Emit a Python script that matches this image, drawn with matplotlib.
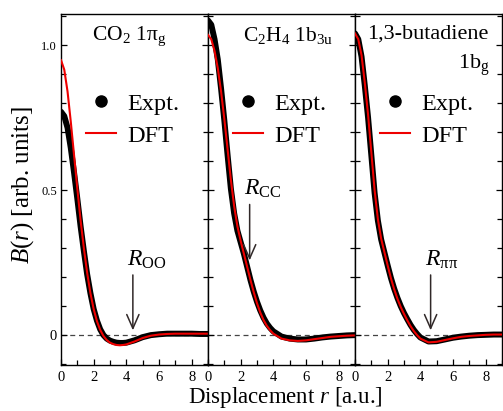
import matplotlib
matplotlib.use("Agg")
import matplotlib.pyplot as plt
from matplotlib.lines import Line2D
from matplotlib.ticker import MultipleLocator, FixedLocator

plt.rcParams['font.family'] = 'serif'
plt.rcParams['font.serif'] = ['Liberation Serif', 'DejaVu Serif']
plt.rcParams['mathtext.fontset'] = 'custom'
plt.rcParams['mathtext.rm'] = 'Liberation Serif'
plt.rcParams['mathtext.it'] = 'Liberation Serif:italic'

# ---------------- data ----------------
r = [0, 0.2, 0.4, 0.6, 0.8, 1.0, 1.2, 1.4, 1.6, 1.8, 2.0, 2.2, 2.4, 2.6, 2.8,
     3.0, 3.2, 3.4, 3.6, 3.8, 4.0, 4.5, 5.0, 5.5, 6.0, 6.5, 7.0, 7.5, 8.0, 8.5, 9.0]

co2_expt = [0.77, 0.755, 0.715, 0.645, 0.56, 0.47, 0.375, 0.29, 0.21, 0.145, 0.09,
            0.05, 0.02, 0.0, -0.012, -0.019, -0.023, -0.026, -0.027, -0.027, -0.026,
            -0.018, -0.007, 0.0, 0.003, 0.005, 0.005, 0.005, 0.005, 0.004, 0.004]
co2_dft = [0.948, 0.915, 0.84, 0.735, 0.62, 0.505, 0.395, 0.3, 0.215, 0.145, 0.09,
           0.048, 0.018, -0.003, -0.017, -0.026, -0.031, -0.034, -0.035, -0.034, -0.032,
           -0.022, -0.01, -0.002, 0.002, 0.004, 0.005, 0.005, 0.005, 0.005, 0.005]

c2h4_expt = [1.085, 1.07, 1.02, 0.95, 0.85, 0.74, 0.62, 0.505, 0.42, 0.36, 0.32,
             0.28, 0.235, 0.19, 0.15, 0.115, 0.085, 0.06, 0.04, 0.025, 0.013,
             -0.005, -0.012, -0.015, -0.015, -0.012, -0.008, -0.005, -0.003, -0.001, 0.0]
c2h4_dft = [1.035, 1.02, 0.98, 0.92, 0.84, 0.745, 0.64, 0.535, 0.445, 0.375, 0.325,
            0.28, 0.235, 0.19, 0.148, 0.11, 0.078, 0.052, 0.032, 0.017, 0.005,
            -0.012, -0.018, -0.02, -0.018, -0.014, -0.01, -0.006, -0.004, -0.002, -0.001]

buta_expt = [1.04, 1.02, 0.96, 0.86, 0.75, 0.62, 0.49, 0.395, 0.33, 0.285, 0.24,
             0.197, 0.16, 0.128, 0.1, 0.076, 0.055, 0.035, 0.018, 0.004, -0.008,
             -0.022, -0.021, -0.015, -0.009, -0.005, -0.002, 0.0, 0.001, 0.002, 0.002]
buta_dft = [1.04, 1.02, 0.965, 0.87, 0.76, 0.63, 0.5, 0.4, 0.333, 0.286, 0.24,
            0.196, 0.158, 0.125, 0.097, 0.073, 0.051, 0.031, 0.014, 0.0, -0.012,
            -0.025, -0.023, -0.017, -0.011, -0.006, -0.003, -0.001, 0.001, 0.002, 0.002]

panel_titles = ["CO$_2$ 1π$_\\mathrm{g}$", "C$_2$H$_4$ 1b$_\\mathrm{3u}$", "1,3-butadiene"]
arrow_labels = ["$R$$_\\mathrm{OO}$", "$R$$_\\mathrm{CC}$", "$R$$_\\mathrm{ππ}$"]
arrow_r = [4.4, 2.55, 4.63]
arrow_tip = [0.007, 0.248, 0.007]
arrow_tail = [0.217, 0.46, 0.217]

xticks = [0, 2, 4, 6, 8]
yticks = [0, 0.5, 1.0]
yticklabels = ["0", "0.5", "1.0"]

expts = [co2_expt, c2h4_expt, buta_expt]
dfts = [co2_dft, c2h4_dft, buta_dft]

# ---------------- figure ----------------
fig = plt.figure(figsize=(5.03, 4.11), dpi=100)
L, R_, T, B = 61/503, 502/503, 1-14/411, 1-365/411
w = (R_-L)/3
axes = [fig.add_axes([L + i*w, B, w, T-B]) for i in range(3)]

for i, ax in enumerate(axes):
    ax.axhline(0, color='#444444', lw=0.9, ls=(0, (4, 3)), zorder=1)
    ax.plot(r, expts[i], color='black', lw=4.3, solid_capstyle='round',
            solid_joinstyle='round', zorder=2)
    ax.plot(r, dfts[i], color='#ee0000', lw=1.5, zorder=3)
    ax.set_xlim(0, 9)
    ax.set_ylim(-0.103, 1.107)
    ax.xaxis.set_major_locator(FixedLocator(xticks))
    ax.xaxis.set_minor_locator(MultipleLocator(1))
    ax.yaxis.set_major_locator(FixedLocator(yticks))
    ax.yaxis.set_minor_locator(MultipleLocator(0.1))
    ax.tick_params(which='both', direction='in', left=True, right=True,
                   top=False, bottom=True, width=0.9, labelsize=10.5)
    ax.tick_params(which='major', length=4.5)
    ax.tick_params(which='minor', length=3.6)
    ax.tick_params(axis='x', pad=4.5)
    ax.tick_params(axis='y', pad=3)
    for s in ax.spines.values():
        s.set_linewidth(1.0)
    if i == 0:
        ax.set_yticklabels(yticklabels)
        for lab, fs in zip(ax.get_yticklabels(), [10.5, 9, 9]):
            lab.set_fontsize(fs)
    else:
        ax.tick_params(labelleft=False)

    # arrow annotation
    ax.annotate("", xy=(arrow_r[i], arrow_tip[i]), xytext=(arrow_r[i], arrow_tail[i]),
                arrowprops=dict(arrowstyle='->,head_length=0.5,head_width=0.22',
                                mutation_scale=20, color='#302828', lw=1.1),
                zorder=4)
    ax.text(arrow_r[i] - 0.35, arrow_tail[i] + 0.005, arrow_labels[i], fontsize=17,
            ha='left', va='bottom', color='black')

    # legend
    handles = [Line2D([], [], color='black', marker='o', ls='none', markersize=8),
               Line2D([], [], color='#ee0000', lw=1.5)]
    ax.legend(handles, ["Expt.", "DFT"], loc='upper left',
              bbox_to_anchor=(0.17, 0.776), frameon=False, fontsize=17.5,
              handlelength=1.25, handletextpad=0.45, labelspacing=0.42,
              borderpad=0, borderaxespad=0)

axes[0].text(0.21, 0.969, panel_titles[0], transform=axes[0].transAxes,
             fontsize=15.5, ha='left', va='top')
axes[1].text(0.236, 0.969, panel_titles[1], transform=axes[1].transAxes,
             fontsize=15.5, ha='left', va='top')
axes[2].text(0.08, 0.969, panel_titles[2], transform=axes[2].transAxes,
             fontsize=16, ha='left', va='top')
axes[2].text(0.918, 0.889, "1b$_\\mathrm{g}$", transform=axes[2].transAxes,
             fontsize=16, ha='right', va='top')

fig.text(0.044, 0.55, "$B$($r$) [arb. units]", rotation=90, fontsize=18,
         ha='center', va='center')
fig.text(0.567, 0.032, "Displacement $r$ [a.u.]", fontsize=16.5,
         ha='center', va='center')

fig.savefig("out.png", dpi=100)
